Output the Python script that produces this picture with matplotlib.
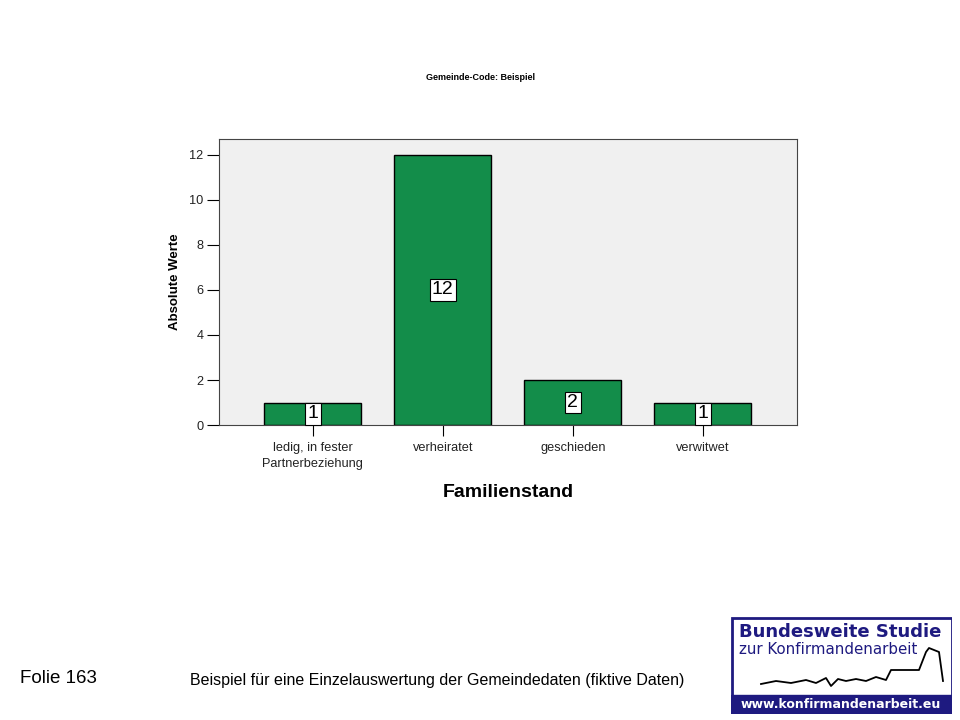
import matplotlib.pyplot as plt
from matplotlib.patches import Rectangle

plt.rcParams['font.family'] = ['Liberation Sans', 'DejaVu Sans']

categories = ['ledig, in fester\nPartnerbeziehung', 'verheiratet', 'geschieden', 'verwitwet']
counts = [1, 12, 2, 1]
yticks = [0, 2, 4, 6, 8, 10, 12]

fig = plt.figure(figsize=(9.6, 7.2), dpi=100)
ax = fig.add_axes([0.228, 0.4097, 0.602, 0.3973])
ax.set_facecolor('#f0f0f0')

x = range(len(categories))
ax.bar(x, counts, width=0.746, color='#138d4a', edgecolor='black', linewidth=1.0, zorder=2)

# value labels in white boxes at half bar height
for xi, c in zip(x, counts):
    ax.text(xi, c / 2, str(c), ha='center', va='center', fontsize=14, zorder=3,
            bbox=dict(boxstyle='square,pad=0.12', facecolor='white', edgecolor='black', linewidth=0.8))

ax.set_xlim(-0.723, 3.723)
ax.set_ylim(0, 12.71)
ax.set_yticks(yticks)
ax.set_xticks(list(x))
ax.set_xticklabels(categories, fontsize=9.2, color='#222222', linespacing=1.45)
ax.tick_params(axis='y', labelsize=9.2, labelcolor='#222222', length=9, direction='out', pad=2)
ax.tick_params(axis='x', length=8, direction='out', pad=4)
for sp in ax.spines.values():
    sp.set_color('#444444')
    sp.set_linewidth(0.8)

ax.set_ylabel('Absolute Werte', fontsize=9.5, fontweight='bold', labelpad=6)
ax.set_xlabel('Familienstand', fontsize=14, fontweight='bold', labelpad=10)
fig.text(0.5, 0.893, 'Gemeinde-Code: Beispiel', ha='center', va='center', fontsize=6.5, fontweight='bold')

# footer
fig.text(0.021, 0.058, 'Folie 163', ha='left', va='center', fontsize=13.5)
fig.text(0.455, 0.055, 'Beispiel für eine Einzelauswertung der Gemeindedaten (fiktive Daten)',
         ha='center', va='center', fontsize=11.5)

# logo
lg = fig.add_axes([731 / 960, 6 / 720, 221 / 960, 97 / 720])
lg.set_xlim(0, 221)
lg.set_ylim(0, 97)
lg.axis('off')
navy = '#1e1a80'
lg.add_patch(Rectangle((0.5, 0.5), 220, 96, facecolor='white', edgecolor=navy, linewidth=2))
lg.add_patch(Rectangle((0, 0), 221, 19, facecolor=navy, edgecolor=navy))
lg.text(110, 9.5, 'www.konfirmandenarbeit.eu', ha='center', va='center', color='white',
        fontsize=9, fontweight='bold', family=['DejaVu Sans'])
lg.text(8, 82, 'Bundesweite Studie', ha='left', va='center', color=navy,
        fontsize=13, fontweight='bold', family=['DejaVu Sans'])
lg.text(8, 64, 'zur Konfirmandenarbeit', ha='left', va='center', color=navy,
        fontsize=10.8, family=['DejaVu Sans'])
sx = [30, 45, 60, 75, 85, 95, 100, 107, 115, 125, 135, 145, 155, 160, 170, 188, 195, 198, 208, 212]
sy = [30, 33, 31, 34, 31, 36, 28, 35, 33, 35, 33, 37, 34, 44, 44, 44, 62, 66, 62, 33]
lg.plot(sx, sy, color='black', linewidth=1.3)

fig.savefig('out.png', dpi=100)
